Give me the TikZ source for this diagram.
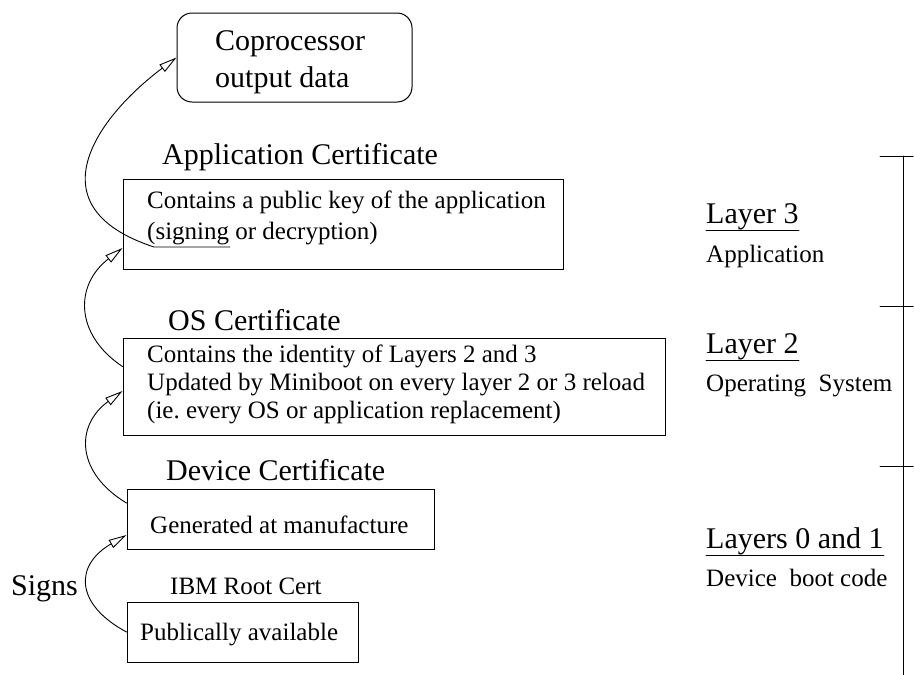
\documentclass[tikz,border=0pt]{standalone}
\usepackage{fontspec}
\setmainfont{Liberation Serif}
\usetikzlibrary{arrows.meta}

\newcommand{\bigtxt}{\fontsize{30}{36}\selectfont}
\newcommand{\smalltxt}{\fontsize{25}{29}\selectfont}

\tikzset{
  certbox/.style={draw, line width=1pt, inner sep=0pt},
  txt/.style={anchor=base west, inner sep=0pt, font=\smalltxt},
  title/.style={anchor=base west, inner sep=0pt, font=\bigtxt},
  signs/.style={line width=0.9pt, -{Triangle[open, length=18pt, width=9pt]}},
}

\begin{document}
\begin{tikzpicture}[x=1pt,y=-1pt,line cap=round]
    \useasboundingbox (0,0) rectangle (914,675);

    % the certificate boxes
    \node[certbox, rounded corners=15pt, minimum width=235pt, minimum height=89pt] (copro) at (294.5,57.5) {};
    \node[certbox, minimum width=440pt, minimum height=90pt] (appbox) at (343,224) {};
    \node[certbox, minimum width=542pt, minimum height=97pt] (osbox) at (394,386.5) {};
    \node[certbox, minimum width=307pt, minimum height=60pt] (devbox) at (280.5,519) {};
    \node[certbox, minimum width=231pt, minimum height=60pt] (rootbox) at (242.5,632) {};

    % text in the boxes
    \node[title, font=\fontsize{30}{37}\selectfont] (coprotxt) at (215,50)
        {\begin{tabular}[t]{@{}l@{}} Coprocessor\\ output data\end{tabular}};
    \node[txt, font=\fontsize{25}{31}\selectfont] (apptxt) at (147,208)
        {\begin{tabular}[t]{@{}l@{}} Contains a public key of the application\\ (signing or decryption)\end{tabular}};
    \node[txt, font=\fontsize{25}{28}\selectfont] (ostxt) at (147,362)
        {\begin{tabular}[t]{@{}l@{}} Contains the identity of Layers 2 and 3\\
          Updated by Miniboot on every layer 2 or 3 reload\\
          (ie.\ every OS or application replacement)\end{tabular}};
    \node[txt] (devtxt) at (150,533) {Generated at manufacture};
    \node[txt] (roottxt) at (140,640) {Publically available};

    % titles above the boxes
    \node[title] (apptitle) at (162,164) {Application Certificate};
    \node[title] (ostitle) at (168,330) {OS Certificate};
    \node[title] (devtitle) at (166,480) {Device Certificate};
    \node[txt] (roottitle) at (170,594) {IBM Root Cert};
    \node[title] (signlabel) at (11,595) {Signs};

    % signing chain
    \coordinate (signend) at (230,247);
    \coordinate (signstart) at (154,247);
    \draw[signs] (signend) -- (signstart)
        .. controls +(-122,-40) and +(-80,60) .. (copro.west);
    \draw[signs] ([yshift=20pt]osbox.west)
        .. controls +(-48,-32) and +(-48,37) .. ([yshift=-24pt]appbox.west);
    \draw[signs] ([yshift=16pt]devbox.west)
        .. controls +(-50,-30) and +(-48,35) .. ([yshift=-4.5pt]osbox.west);
    \draw[signs] (rootbox.west)
        .. controls +(-52,-28) and +(-52,30) .. ([yshift=-16pt]devbox.west);

    % layers on the right
    \draw[line width=1pt] (903,156) -- (903,675);
    \foreach \y in {156,306,466}
        \draw[line width=1pt] (880,\y) -- (913,\y);

    \node[title] (layer3) at (706,223) {Layer 3};
    \node[txt] (layer3txt) at (706,262) {Application};
    \node[title] (layer2) at (706,353) {Layer 2};
    \node[txt] (layer2txt) at (706,391) {Operating\ \ System};
    \node[title] (layer01) at (706,548) {Layers 0 and 1};
    \node[txt] (layer01txt) at (706,586) {Device\ \ boot code};

    % underlines
    \foreach \n in {layer3,layer2,layer01}
        \draw[line width=1pt] ([yshift=-7.5pt]\n.base west) -- ([yshift=-7.5pt]\n.base east);
\end{tikzpicture}
\end{document}
